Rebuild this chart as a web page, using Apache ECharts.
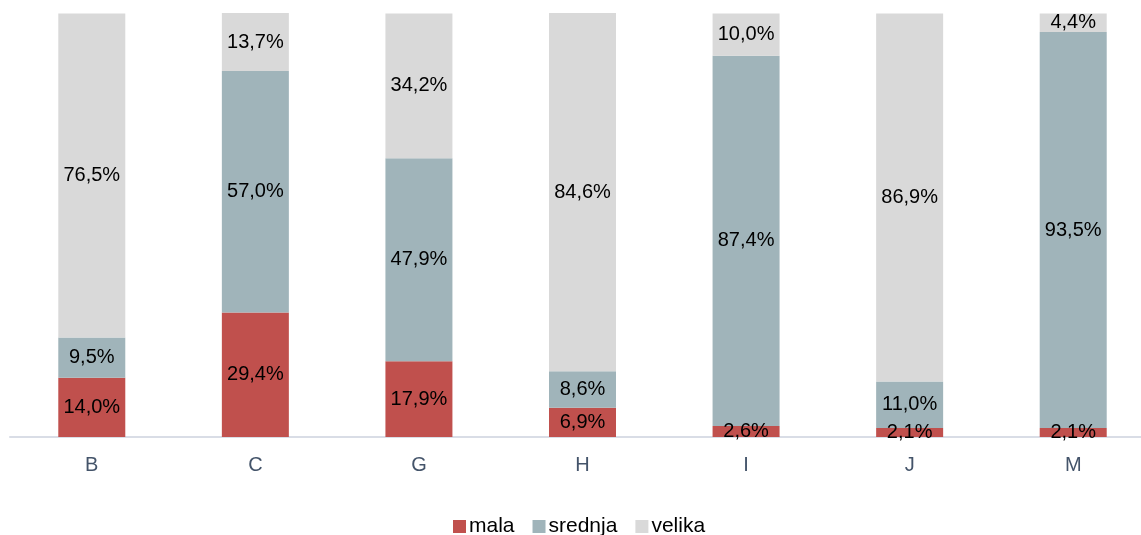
<!DOCTYPE html>
<html>
<head>
<meta charset="utf-8">
<script src="https://cdn.jsdelivr.net/npm/echarts@6/dist/echarts.min.js"></script>
<style>
  html, body { margin: 0; padding: 0; background: #fff; }
  #chart { width: 1141px; height: 535px; }
</style>
</head>
<body>
<div id="chart"></div>
<script>
const categories = ['B', 'C', 'G', 'H', 'I', 'J', 'M'];
const mala = [14.0, 29.4, 17.9, 6.9, 2.6, 2.1, 2.1];
const srednja = [9.5, 57.0, 47.9, 8.6, 87.4, 11.0, 93.5];
const velika = [76.5, 13.7, 34.2, 84.6, 10.0, 86.9, 4.4];

const fontFamily = 'Liberation Sans, Arial, sans-serif';
const fmt = p => p.value.toFixed(1).replace('.', ',') + '%';

const labelStyle = {
  show: true,
  position: 'inside',
  color: '#000',
  fontSize: 20,
  fontFamily: fontFamily,
  formatter: fmt
};

const chart = echarts.init(document.getElementById('chart'));
chart.setOption({
  animation: false,
  grid: { left: 10, width: 1145, top: 13, bottom: 98, outerBoundsMode: 'none', containLabel: false },
  legend: {
    top: 511,
    left: 448,
    itemWidth: 13,
    itemHeight: 13,
    itemGap: 18,
    icon: 'rect',
    textStyle: { color: '#000', fontSize: 21, fontFamily: fontFamily, padding: [0, 0, 0, -2] },
    data: ['mala', 'srednja', 'velika']
  },
  xAxis: {
    type: 'category',
    data: categories,
    axisLine: { lineStyle: { color: '#d9dde6', width: 2 } },
    axisTick: { show: false },
    axisLabel: { color: '#44546a', fontSize: 20, margin: 18, fontFamily: fontFamily }
  },
  yAxis: {
    type: 'value',
    min: 0,
    max: 'dataMax',
    show: false,
    splitLine: { show: false }
  },
  series: [
    { name: 'mala', type: 'bar', stack: 'total', data: mala, barWidth: 67,
      itemStyle: { color: '#c0504d' }, label: labelStyle },
    { name: 'srednja', type: 'bar', stack: 'total', data: srednja, barWidth: 67,
      itemStyle: { color: '#a0b4ba' }, label: labelStyle },
    { name: 'velika', type: 'bar', stack: 'total', data: velika, barWidth: 67,
      itemStyle: { color: '#d9d9d9' }, label: labelStyle }
  ]
});
</script>
</body>
</html>
